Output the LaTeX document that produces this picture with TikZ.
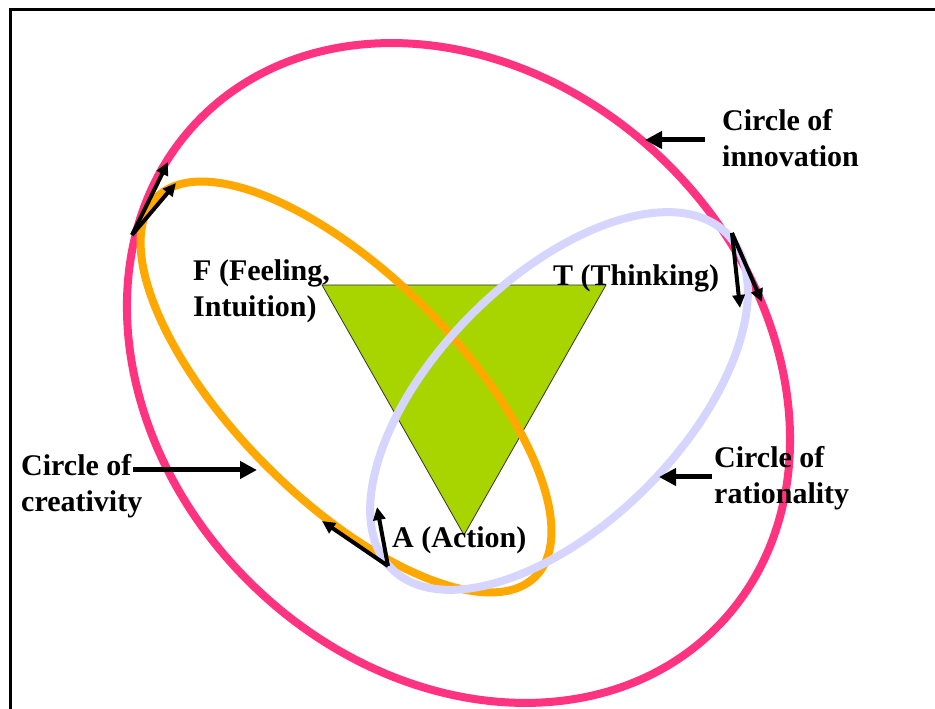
\documentclass[tikz,border=0pt]{standalone}
\usepackage{fontspec}
\setmainfont{Liberation Serif}
\usetikzlibrary{arrows.meta}
\definecolor{pinkc}{HTML}{FF3380}
\definecolor{orangec}{HTML}{FFA800}
\definecolor{lavc}{HTML}{D5D5FF}
\definecolor{greenc}{HTML}{A8D500}
\begin{document}
\begin{tikzpicture}[x=1pt,y=1pt,
  lbl/.style={font=\fontsize{30}{36}\selectfont\bfseries, align=left, anchor=north west, inner sep=0pt},
  bigarrow/.style={line width=5pt, -{Triangle[length=17pt,width=17pt]}},
  smallarrow/.style={line width=4pt, -{Triangle[length=13pt,width=12pt]}},
  ring/.style={line width=8pt}]
\useasboundingbox (0,0) rectangle (935,709);
\fill[white] (0,0) rectangle (935,709);
\draw[line width=3pt] (10,0) -- (10,699) -- (935,699);
% triangle
\coordinate (tf) at (322,424);
\coordinate (tt) at (606,424);
\coordinate (ta) at (464,174);
\draw[fill=greenc, draw=black!80, line width=0.8pt] (tf) -- (tt) -- (ta) -- cycle;
% ellipses
\coordinate (cp) at (458.5,336);
\coordinate (co) at (346,322);
\coordinate (cl) at (559,308);
\draw[ring, pinkc, rotate around={-44.3:(cp)}] (cp) ellipse [x radius=362.5, y radius=295.6];
\draw[ring, orangec, rotate around={-45:(co)}] (co) ellipse [x radius=268, y radius=112];
\draw[ring, lavc, rotate around={45:(cl)}] (cl) ellipse [x radius=237, y radius=123];
% labels
\node[lbl] (innov) at (722,600) {Circle of\\innovation};
\node[lbl] (creat) at (21,255) {Circle of\\creativity};
\node[lbl] (ration) at (714,263) {Circle of\\rationality};
\node[lbl] (feel) at (193,450) {F (Feeling,\\Intuition)};
\node[lbl] (think) at (553,445) {T (Thinking)};
\node[lbl] (act) at (392,183) {A (Action)};
% arrows
\coordinate (innovT) at (705,569); \coordinate (innovH) at (645,569);
\coordinate (creatT) at (133,239); \coordinate (creatH) at (257,239);
\coordinate (rationT) at (712,232); \coordinate (rationH) at (659,232);
\draw[bigarrow] (innovT) -- (innovH);
\draw[bigarrow] (creatT) -- (creatH);
\draw[bigarrow] (rationT) -- (rationH);
\coordinate (tlT) at (132,474); \coordinate (tlA) at (168,547); \coordinate (tlB) at (176,526);
\coordinate (rT) at (732,476); \coordinate (rA) at (740,401); \coordinate (rB) at (762,407);
\coordinate (bT) at (388,143); \coordinate (bA) at (322,188); \coordinate (bB) at (377,202);
\draw[smallarrow] (tlT) -- (tlA);
\draw[smallarrow] (tlT) -- (tlB);
\draw[smallarrow] (rT) -- (rA);
\draw[smallarrow] (rT) -- (rB);
\draw[smallarrow] (bT) -- (bA);
\draw[smallarrow] (bT) -- (bB);
\end{tikzpicture}
\end{document}
